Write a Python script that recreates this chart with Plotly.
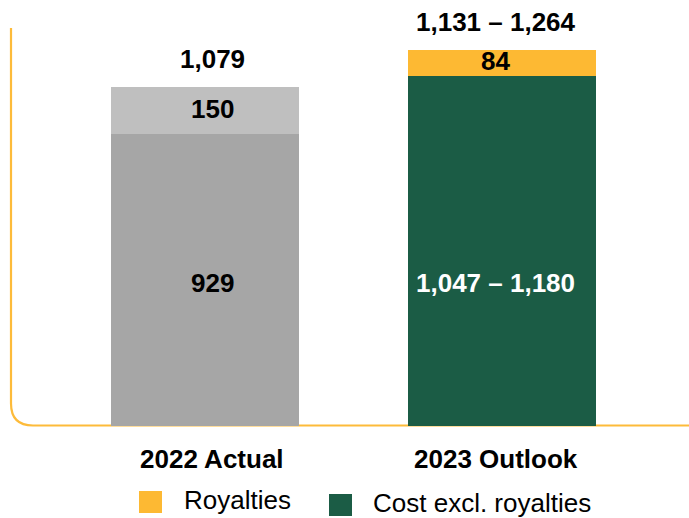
import plotly.graph_objects as go

# ---- data -------------------------------------------------------------
categories = ["2022 Actual", "2023 Outlook"]
cost_low = [929, 1047]          # cost excl. royalties (lower bound)
cost_high = [929, 1180]         # cost excl. royalties (upper bound)
royalties = [150, 84]

# ---- styling ----------------------------------------------------------
FONT = "Liberation Sans, Arial, sans-serif"
FS = 26
GOLD = "#FDB933"
GREEN = "#1B5C45"
cost_colors = ["#A6A6A6", GREEN]
royalty_colors = ["#BFBFBF", GOLD]
cost_label_colors = ["black", "white"]
label_xshift = [7, -6]

W, H = 689, 518
ML, MR, MT, MB = 12, 0, 28, 92
PW, PH = W - ML - MR, H - MT - MB


def px(x):
    return (x - ML) / PW


def py(y):
    return (H - MB - y) / PH


def fmt_range(lo, hi):
    return f"{lo:,}" if lo == hi else f"{lo:,} \u2013 {hi:,}"


cost_mid = [(lo + hi) / 2 for lo, hi in zip(cost_low, cost_high)]
total_low = [c + r for c, r in zip(cost_low, royalties)]
total_high = [c + r for c, r in zip(cost_high, royalties)]
# cost labels share one row, centred in the shorter cost segment
cost_label_y = min(cost_mid) / 2

fig = go.Figure()
fig.add_trace(go.Bar(
    x=categories, y=cost_mid, name="Cost excl. royalties",
    marker=dict(color=cost_colors, line=dict(width=0)), width=0.633,
    hoverinfo="skip",
))
fig.add_trace(go.Bar(
    x=categories, y=royalties, name="Royalties",
    marker=dict(color=royalty_colors, line=dict(width=0)), width=0.633,
    hoverinfo="skip",
))

annotations = []
for i, cat in enumerate(categories):
    # segment values
    annotations.append(dict(
        x=cat, y=cost_label_y, xref="x", yref="y", showarrow=False, yshift=-3,
        text=f"<b>{fmt_range(cost_low[i], cost_high[i])}</b>", xshift=label_xshift[i],
        font=dict(family=FONT, size=FS, color=cost_label_colors[i]),
    ))
    annotations.append(dict(
        x=cat, y=cost_mid[i] + royalties[i] / 2, xref="x", yref="y", showarrow=False,
        text=f"<b>{royalties[i]:,}</b>", xshift=label_xshift[i], yshift=2,
        font=dict(family=FONT, size=FS, color="black"),
    ))
    # totals above the stacks
    annotations.append(dict(
        x=cat, y=cost_mid[i] + royalties[i], xref="x", yref="y", showarrow=False,
        text=f"<b>{fmt_range(total_low[i], total_high[i])}</b>", xshift=label_xshift[i],
        yanchor="middle", yshift=28,
        font=dict(family=FONT, size=FS, color="black"),
    ))
    # category labels under the baseline
    annotations.append(dict(
        x=cat, y=py(459), xref="x", yref="paper", showarrow=False,
        text=f"<b>{cat}</b>", xshift=label_xshift[i], yanchor="middle",
        font=dict(family=FONT, size=FS, color="black"),
    ))

# legend entries drawn by hand
legend_items = [("Royalties", GOLD, 139, 491, 182), ("Cost excl. royalties", GREEN, 329, 494, 371)]
shapes = []
for name, color, sx, sy, tx in legend_items:
    shapes.append(dict(
        type="rect", xref="paper", yref="paper",
        x0=px(sx), x1=px(sx + 23), y0=py(sy + 22), y1=py(sy),
        fillcolor=color, line=dict(width=0),
    ))
    annotations.append(dict(
        x=px(tx), y=py(sy + 9), xref="paper", yref="paper", showarrow=False,
        text=name, xanchor="left", yanchor="middle",
        font=dict(family=FONT, size=FS, color="black"),
    ))

# rounded L-shaped axis frame
x0, ytop, ybase, r = px(11), py(28), py(425.5), 22
shapes.append(dict(
    type="path", xref="paper", yref="paper", layer="below",
    path=(f"M {x0},{ytop} L {x0},{py(425.5 - r)} "
          f"Q {x0},{ybase} {px(11 + r)},{ybase} L {px(689)},{ybase}"),
    line=dict(color="#FDBB3A", width=2.2),
))

fig.update_layout(
    width=W, height=H, margin=dict(l=ML, r=MR, t=MT, b=MB),
    barmode="stack", showlegend=False,
    plot_bgcolor="white", paper_bgcolor="white",
    xaxis=dict(range=[-0.65, 1.63], showticklabels=False, showgrid=False,
               zeroline=False, showline=False, ticks=""),
    yaxis=dict(range=[0, 1267], showticklabels=False, showgrid=False,
               zeroline=False, showline=False, ticks=""),
    annotations=annotations, shapes=shapes,
)

fig.write_html("out.html")
